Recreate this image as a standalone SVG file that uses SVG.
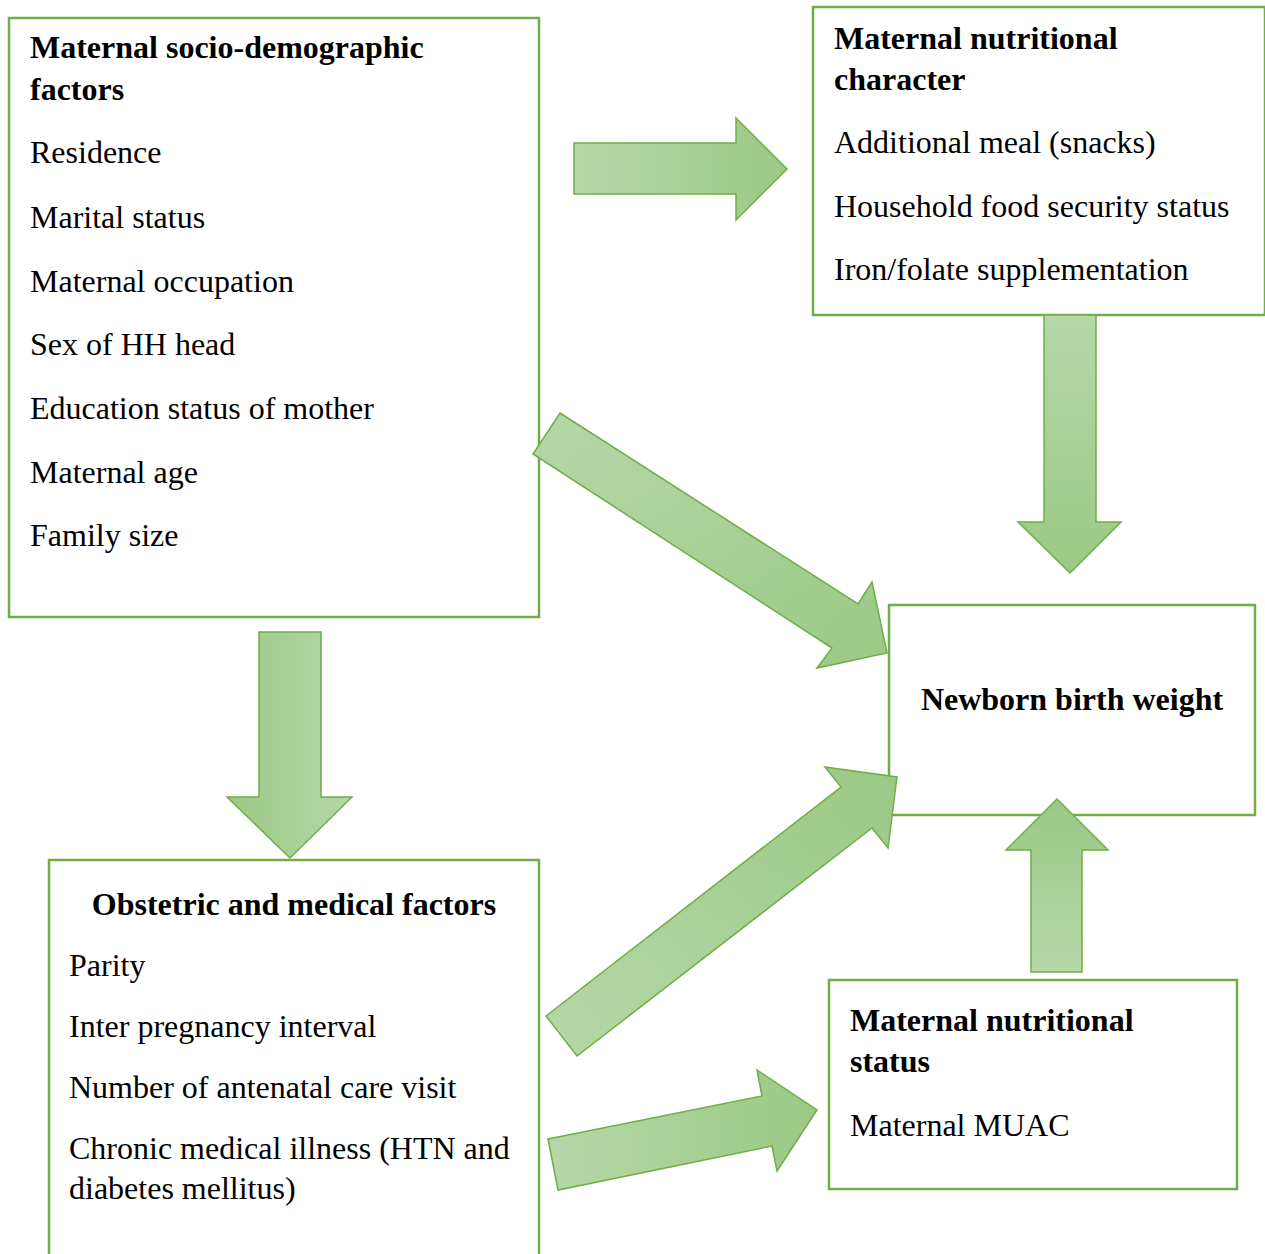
<svg xmlns="http://www.w3.org/2000/svg" width="1265" height="1254" viewBox="0 0 1265 1254">
<style>
.box{fill:#ffffff;stroke:#70ad47;stroke-width:2.5}
.arr{stroke:#70ad47;stroke-width:1.5;stroke-linejoin:miter}
text{font-family:"Liberation Serif","Times New Roman",serif;font-size:32px;fill:#000}
.b{font-weight:bold}
</style>
<defs>
<linearGradient id="gLR" x1="0" y1="0" x2="1" y2="0"><stop offset="0" stop-color="#b6d7a8"/><stop offset="1" stop-color="#9bc985"/></linearGradient>
<linearGradient id="gRL" x1="0" y1="0" x2="1" y2="0"><stop offset="0" stop-color="#9bc985"/><stop offset="1" stop-color="#b6d7a8"/></linearGradient>
<linearGradient id="gTB" x1="0" y1="0" x2="0" y2="1"><stop offset="0" stop-color="#b6d7a8"/><stop offset="1" stop-color="#9bc985"/></linearGradient>
<linearGradient id="gBT" x1="0" y1="1" x2="0" y2="0"><stop offset="0" stop-color="#b6d7a8"/><stop offset="1" stop-color="#9bc985"/></linearGradient>
<linearGradient id="gD1" x1="0" y1="0" x2="1" y2="1"><stop offset="0" stop-color="#b6d7a8"/><stop offset="1" stop-color="#9bc985"/></linearGradient>
<linearGradient id="gD2" x1="0" y1="1" x2="1" y2="0"><stop offset="0" stop-color="#b6d7a8"/><stop offset="1" stop-color="#9bc985"/></linearGradient>
</defs>

<g id="socio">
<rect class="box" x="9" y="18" width="530" height="599"/>
<text class="b" x="30" y="58">Maternal socio-demographic</text>
<text class="b" x="30" y="100">factors</text>
<text x="30" y="163">Residence</text>
<text x="30" y="228">Marital status</text>
<text x="30" y="292">Maternal occupation</text>
<text x="30" y="355">Sex of HH head</text>
<text x="30" y="419">Education status of mother</text>
<text x="30" y="483">Maternal age</text>
<text x="30" y="546">Family size</text>
</g>

<g id="nutritional-character">
<rect class="box" x="813" y="7" width="452" height="308"/>
<text class="b" x="834" y="49">Maternal nutritional</text>
<text class="b" x="834" y="90">character</text>
<text x="834" y="153">Additional meal (snacks)</text>
<text x="834" y="217">Household food security status</text>
<text x="834" y="280">Iron/folate supplementation</text>
</g>

<g id="birth-weight">
<rect class="box" x="889" y="605" width="366" height="210"/>
<text class="b" x="1072" y="710" text-anchor="middle">Newborn birth weight</text>
</g>

<g id="obstetric">
<rect class="box" x="49" y="860" width="490" height="420"/>
<text class="b" x="294" y="915" text-anchor="middle">Obstetric and medical factors</text>
<text x="69" y="976">Parity</text>
<text x="69" y="1037">Inter pregnancy interval</text>
<text x="69" y="1098">Number of antenatal care visit</text>
<text x="69" y="1159">Chronic medical illness (HTN and</text>
<text x="69" y="1199">diabetes mellitus)</text>
</g>

<g id="nutritional-status">
<rect class="box" x="829" y="980" width="408" height="209"/>
<text class="b" x="850" y="1031">Maternal nutritional</text>
<text class="b" x="850" y="1072">status</text>
<text x="850" y="1136">Maternal MUAC</text>
</g>

<g id="connectors">
<polygon class="arr" fill="url(#gLR)" points="574,143 736,143 736,118 787,169 736,220 736,194 574,194"/>
<polygon class="arr" fill="url(#gTB)" points="1044,315 1096,315 1096,522 1121,522 1070,573 1018,522 1044,522"/>
<polygon class="arr" fill="url(#gRL)" points="259,632 321,632 321,797 352,797 290,858 227,797 259,797"/>
<polygon class="arr" fill="url(#gBT)" points="1031,972 1082,972 1082,850 1108,850 1057,799 1006,850 1031,850"/>
<polygon class="arr" fill="url(#gD1)" points="560,413 858,604 872,582 887,653 817,668 832,648 533,454"/>
<polygon class="arr" fill="url(#gD2)" points="546,1016 841,787 825,767 897,777 888,848 872,828 577,1056"/>
<polygon class="arr" fill="url(#gLR)" points="548,1139 762,1096 757,1070 817,1110 777,1171 772,1146 558,1190"/>
</g>
</svg>
